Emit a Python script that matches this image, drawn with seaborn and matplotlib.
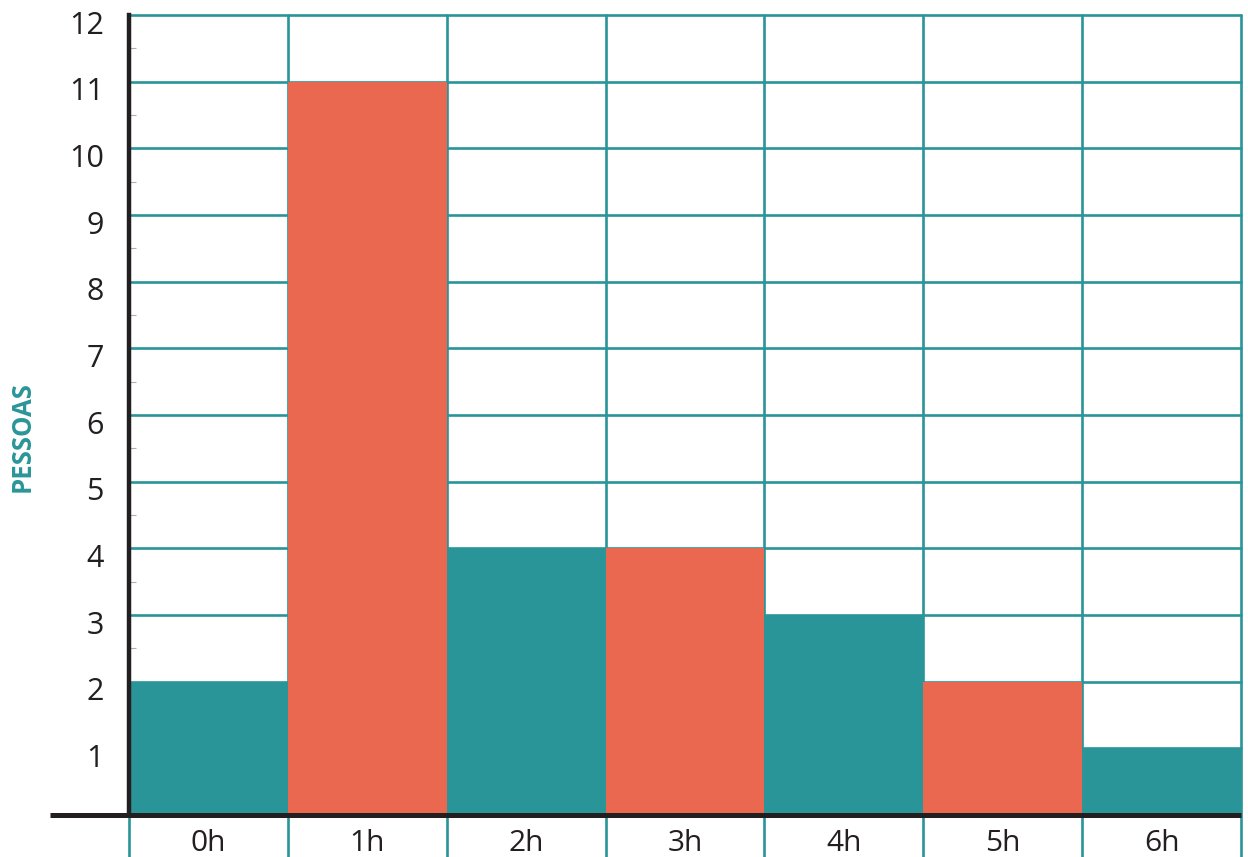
import matplotlib
matplotlib.use("Agg")
import matplotlib.pyplot as plt
import matplotlib.transforms as mtransforms
from matplotlib.ticker import MultipleLocator
import seaborn as sns

# Hours per day and number of people
categories = ["0h", "1h", "2h", "3h", "4h", "5h", "6h"]
people = [2, 11, 4, 4, 3, 2, 1]
y_ticks = list(range(1, 13))
y_label = "PESSOAS"

TEAL = "#2a9598"
CORAL = "#ea6750"
INK = "#231f20"
bar_colors = [TEAL if i % 2 == 0 else CORAL for i in range(len(categories))]

sns.set_theme(style="white")
plt.rcParams["font.family"] = ["Open Sans", "DejaVu Sans"]

W, H = 1248, 857
fig = plt.figure(figsize=(W / 100, H / 100), dpi=100)
ax = fig.add_axes([129 / W, 1 - 815 / H, (1241 - 129) / W, (815 - 15) / H])

sns.barplot(x=categories, y=people, hue=categories, palette=bar_colors,
            width=1.0, saturation=1, linewidth=0, legend=False, ax=ax, zorder=2)

n = len(categories)
ax.set_xlim(-0.5, n - 0.5)
ax.set_ylim(0, 12)

# teal grid: horizontal at each unit, vertical at each column boundary
for v in y_ticks:
    ax.axhline(v, color=TEAL, lw=1.9, zorder=1, clip_on=False)
for i in range(n + 1):
    ax.axvline(i - 0.5, ymin=-0.06, ymax=1, color=TEAL, lw=1.9,
               zorder=1, clip_on=False)

# black axes lines
ax.axhline(0, xmin=-0.071, xmax=1, color=INK, lw=3.6, zorder=4,
           clip_on=False, solid_capstyle="butt")
for s in ["top", "right", "bottom"]:
    ax.spines[s].set_visible(False)
ax.spines["left"].set_color(INK)
ax.spines["left"].set_linewidth(3.2)
ax.spines["left"].set_zorder(5)

ax.yaxis.set_major_locator(MultipleLocator(1))
ax.yaxis.set_minor_locator(MultipleLocator(0.5))
ax.set_yticks(y_ticks)
ax.set_yticklabels([str(v) for v in y_ticks])
ax.tick_params(axis="y", which="both", direction="in", length=5, width=0.8,
               color="#b0b0b0", left=True, pad=18, labelsize=22,
               labelcolor=INK)
ax.tick_params(axis="x", which="both", length=0, pad=10, labelsize=21.5,
               labelcolor=INK)

# y labels sit slightly below their grid lines
shift = mtransforms.ScaledTranslation(0, -7 / 100, fig.dpi_scale_trans)
for lbl in ax.get_yticklabels():
    lbl.set_transform(lbl.get_transform() + shift)

ax.set_xlabel("")
ax.set_ylabel(y_label, color=TEAL, fontsize=18.5, fontweight="bold")
ax.yaxis.set_label_coords((22 - 129) / 1112, (815 - 437) / 800)
ax.yaxis.label.set_va("center")

fig.savefig("out.png", dpi=100, facecolor="white")
